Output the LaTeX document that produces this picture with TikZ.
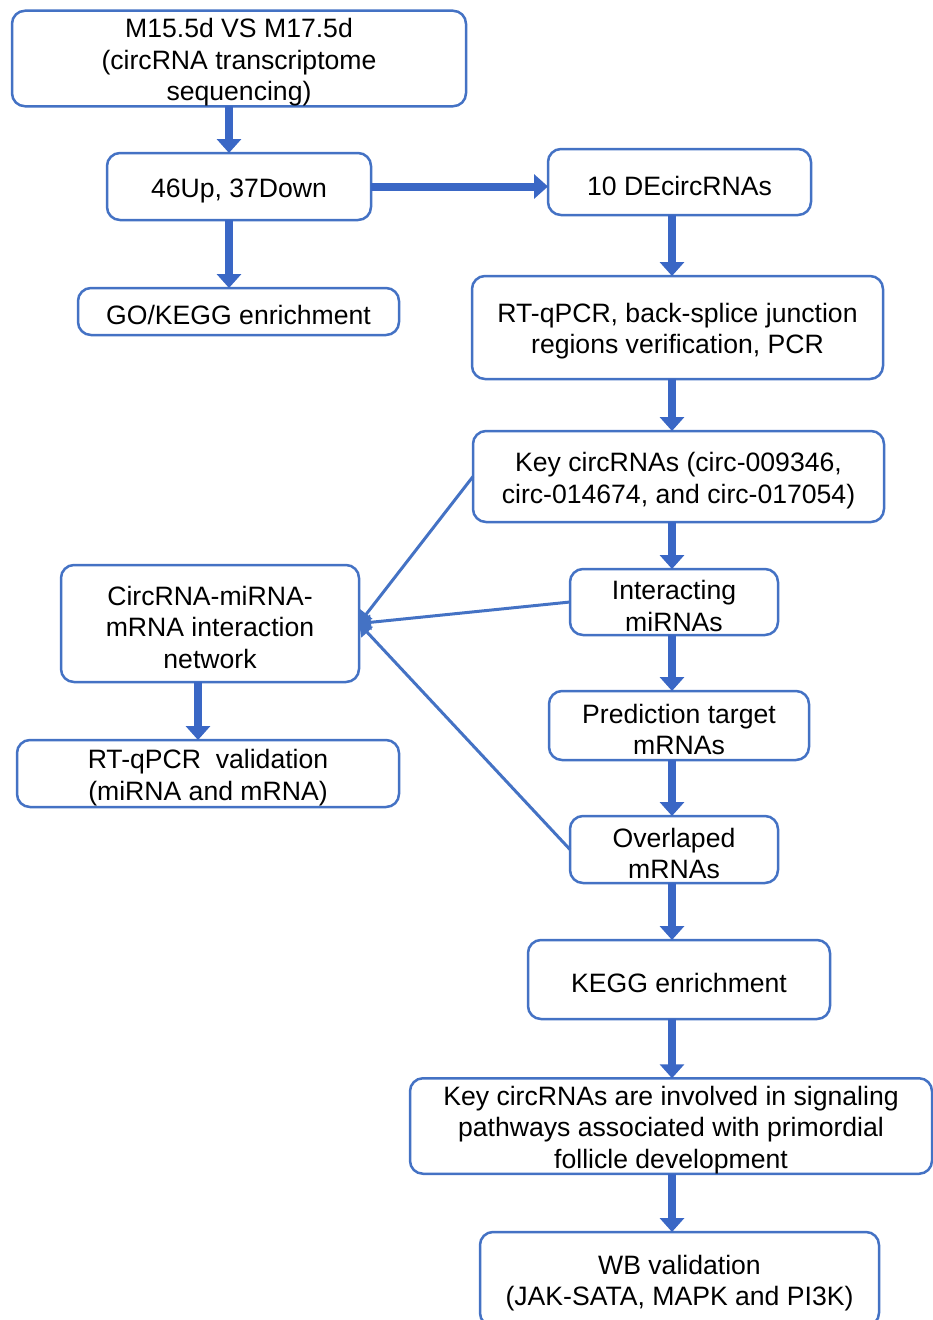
\documentclass[tikz,border=0pt]{standalone}
\usepackage{fontspec}
\setmainfont{Liberation Sans}
\usepackage{tikz}
\usetikzlibrary{arrows.meta}
\definecolor{boxblue}{HTML}{4472C4}
\definecolor{arrblue}{HTML}{3A67C5}
\newcommand{\up}{\rule{0pt}{27pt}}

\begin{document}
\begin{tikzpicture}[x=1pt,y=-1pt,
    box/.style={draw=boxblue,line width=2.5pt,rounded corners=13pt,align=center,
        inner sep=0pt,outer sep=0pt,font=\fontsize{26.6}{31.5}\selectfont},
    bigarrow/.style={arrblue,line width=8pt,-{Triangle[width=24pt,length=14pt]}},
    smallarrow/.style={boxblue,line width=3pt,-{Triangle[width=15pt,length=12pt]}}]
    \clip (0,0) rectangle (933,1320);
    \coordinate (lspine) at (229,0);
    \coordinate (nspine) at (198,0);
    \coordinate (spine) at (672,0);
    % left column
    \node[box,minimum width=454pt,minimum height=93pt] (seq) at (239,58.5)
        {\up M15.5d VS M17.5d\\(circRNA transcriptome\\sequencing)};
    \node[box,minimum width=264pt,minimum height=67pt] (updown) at (239,186.5) {\up 46Up, 37Down};
    \node[box,minimum width=321pt,minimum height=47pt] (gokegg) at (238.5,311.5) {\up GO/KEGG enrichment};
    \node[box,minimum width=298pt,minimum height=117pt] (network) at (210,623.5)
        {\up CircRNA-miRNA-\\mRNA interaction\\network};
    \node[box,minimum width=382pt,minimum height=67pt] (valid) at (208,773.5)
        {\up RT-qPCR\ \ validation\\(miRNA and mRNA)};
    % right column
    \node[box,minimum width=263pt,minimum height=66pt] (de) at (679.5,182) {\up 10 DEcircRNAs};
    \node[box,minimum width=411pt,minimum height=103pt] (rtq) at (677.5,327.5)
        {\up RT-qPCR, back-splice junction\\regions verification, PCR};
    \node[box,minimum width=411pt,minimum height=91pt] (key) at (678.5,476.5)
        {\up Key circRNAs (circ-009346,\\circ-014674, and circ-017054)};
    \node[box,minimum width=208pt,minimum height=66pt] (mirna) at (674,602) {\up Interacting\\miRNAs};
    \node[box,minimum width=260pt,minimum height=69pt] (target) at (679,725.5) {\up Prediction target\\mRNAs};
    \node[box,minimum width=208pt,minimum height=67pt] (overlap) at (674,849.5) {\up Overlaped\\mRNAs};
    \node[box,minimum width=302pt,minimum height=79pt] (kegg) at (679,979.5) {\up KEGG enrichment};
    \node[box,minimum width=522pt,minimum height=94pt] (path) at (671,1126)
        {\up Key circRNAs are involved in signaling\\pathways associated with primordial\\follicle development};
    \node[box,minimum width=399pt,minimum height=94pt] (wb) at (679.5,1279)
        {\up WB validation\\(JAK-SATA, MAPK and PI3K)};
    % thick arrows
    \draw[bigarrow] (seq.south -| lspine) -- (updown.north -| lspine);
    \draw[bigarrow] (updown.south -| lspine) -- (gokegg.north -| lspine);
    \draw[bigarrow] (updown.east) -- (updown.east -| de.west);
    \draw[bigarrow] (network.south -| nspine) -- (valid.north -| nspine);
    \draw[bigarrow] (de.south -| spine) -- (rtq.north -| spine);
    \draw[bigarrow] (rtq.south -| spine) -- (key.north -| spine);
    \draw[bigarrow] (key.south -| spine) -- (mirna.north -| spine);
    \draw[bigarrow] (mirna.south -| spine) -- (target.north -| spine);
    \draw[bigarrow] (target.south -| spine) -- (overlap.north -| spine);
    \draw[bigarrow] (overlap.south -| spine) -- (kegg.north -| spine);
    \draw[bigarrow] (kegg.south -| spine) -- (path.north -| spine);
    \draw[bigarrow] (path.south -| spine) -- (wb.north -| spine);
    % thin arrows into the network box
    \draw[smallarrow] (key.west) -- (network.east);
    \draw[smallarrow] (mirna.west) -- (network.east);
    \draw[smallarrow] (overlap.west) -- (network.east);
\end{tikzpicture}
\end{document}
